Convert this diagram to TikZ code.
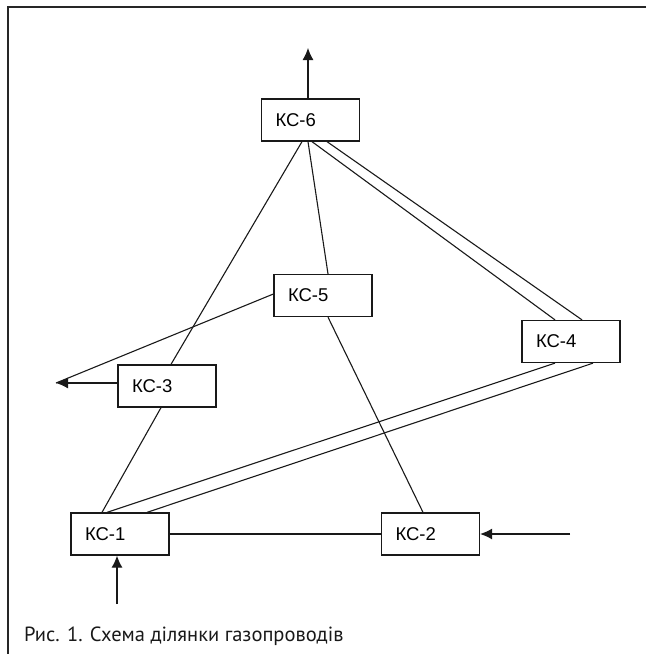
\documentclass[tikz,border=0pt]{standalone}
\usepackage{fontspec}
\setmainfont{Liberation Sans}
\newfontfamily\capfont{PT Sans}
\usetikzlibrary{calc,arrows.meta}
\begin{document}
\begin{tikzpicture}[x=1pt,y=-1pt,
  ks/.style={draw=black!90,line width=1.3pt,minimum height=42pt,text width=70pt,
    inner xsep=14pt,inner ysep=0pt,align=left,font=\fontsize{18.5}{20}\selectfont},
  pipe/.style={draw=black!90,line width=1.1pt},
  flow/.style={draw=black!90,line width=1.1pt,-{Latex[length=12pt,width=11pt]}}]
\useasboundingbox (0,0) rectangle (646,654);
% frame
\draw[line width=1.5pt,black!85] (646,7) -- (8,7) -- (8,654);
% stations
\node[ks] (k6) at (310.5,120) {КС-6};
\node[ks] (k5) at (323,295.5) {КС-5};
\node[ks] (k4) at (571,341.5) {КС-4};
\node[ks] (k3) at (167,386) {КС-3};
\node[ks] (k1) at (120,534) {КС-1};
\node[ks] (k2) at (430.5,534) {КС-2};
% free ends
\coordinate (out6) at (308,48);
\coordinate (out3) at (56,383);
\coordinate (in1) at (117,604);
\coordinate (in2) at (570,534);
% pipes
\draw[pipe] ([xshift=-8.5pt]k6.south) -- ([xshift=4pt]k3.north);
\draw[pipe] ([xshift=-2.5pt]k6.south) -- ([xshift=5pt]k5.north);
\draw[pipe] ([xshift=1.5pt]k6.south) -- ([xshift=-16pt]k4.north);
\draw[pipe] ([xshift=16.5pt]k6.south) -- ([xshift=11pt]k4.north);
\draw[pipe] ([xshift=5pt]k5.south) -- ([xshift=-7.5pt]k2.north);
\draw[pipe] ([yshift=1.5pt]k5.west) -- (out3);
\draw[pipe] ([xshift=-6pt]k3.south) -- ([xshift=-18pt]k1.north);
\draw[pipe] ([xshift=-16pt]k4.south) -- ([xshift=-13pt]k1.north);
\draw[pipe] ([xshift=22pt]k4.south) -- ([xshift=27pt]k1.north);
\draw[pipe] (k1.east) -- (k2.west);
% flows
\draw[flow] ([xshift=-2.5pt]k6.north) -- (out6);
\draw[flow] ([yshift=3pt]k3.west) -- (out3);
\draw[flow] (in1) -- ([xshift=-3pt]k1.south);
\draw[flow] (in2) -- (k2.east);
% caption
\node[anchor=base west,inner sep=0pt,font=\capfont\fontsize{20.5}{24}\selectfont,text=black!90] (cap) at (24,641) {Рис. 1. Схема ділянки газопроводів};
\end{tikzpicture}
\end{document}
